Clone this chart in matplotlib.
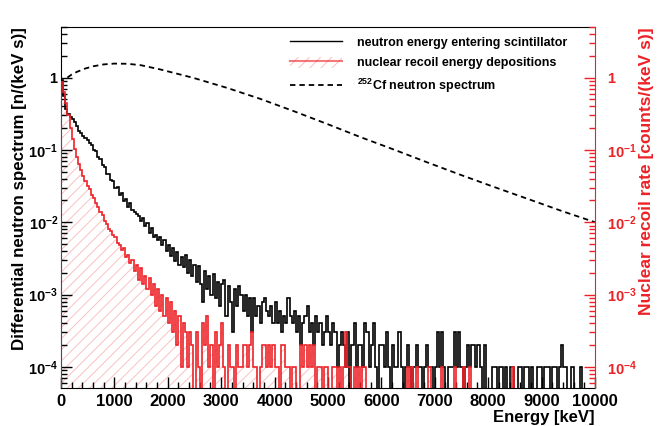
import numpy as np
import matplotlib
matplotlib.use("Agg")
import matplotlib.pyplot as plt
from matplotlib.ticker import LogLocator, FixedLocator, FixedFormatter, NullFormatter, MultipleLocator
from matplotlib.patches import Patch
from matplotlib.lines import Line2D

plt.rcParams['font.family'] = 'Liberation Sans'
plt.rcParams['font.weight'] = 'bold'
plt.rcParams['mathtext.fontset'] = 'custom'
plt.rcParams['mathtext.rm'] = 'Liberation Sans:bold'
plt.rcParams['mathtext.it'] = 'Liberation Sans:bold'
plt.rcParams['mathtext.bf'] = 'Liberation Sans:bold'
plt.rcParams['hatch.linewidth'] = 0.7

# histogram binning: 250 bins of 40 keV from 0 to 10000 keV
bin_width = 40
n_bins = 250

# neutron energy entering scintillator, in units of 1e-4 n/(keV s)
black_counts = [
    9200, 5600, 3700, 3150, 2880, 2680, 2430, 2170, 1850, 1700,
    1560, 1470, 1390, 1230, 1180, 1010, 950, 790, 740, 610,
    580, 470, 460, 380, 370, 300, 310, 240, 250, 196,
    212, 160, 182, 146, 140, 128, 122, 104, 114, 88,
    96, 70, 84, 63, 66, 57, 62, 48, 56, 40,
    49, 34, 44, 29, 39, 26, 33, 24, 35, 20,
    30, 18, 26, 15, 25, 14, 8, 21, 12, 18,
    10, 19, 9, 15, 7, 14, 16, 5, 13, 8,
    3, 12, 7, 13, 10, 6, 10, 5, 9, 3,
    9, 5, 7, 4, 8, 9, 6, 5, 7, 4,
    8, 4, 6, 3, 5, 4, 9, 5, 4, 6,
    3, 5, 2, 4, 5, 7, 3, 4, 2, 5,
    3, 4, 2, 3, 5, 3, 2, 4, 3, 1,
    2, 3, 2, 1, 3, 0, 2, 4, 1, 2,
    2, 1, 4, 3, 1, 2, 4, 1, 0, 2,
    2, 1, 3, 1, 0, 2, 1, 1, 3, 1,
    0, 1, 2, 1, 0, 1, 2, 1, 1, 0,
    1, 2, 1, 1, 0, 1, 3, 1, 3, 1,
    0, 1, 1, 1, 3, 1, 3, 1, 0, 1,
    2, 1, 2, 2, 1, 2, 1, 0, 2, 0,
    0, 0, 1, 1, 0, 1, 1, 0, 1, 0,
    1, 1, 0, 0, 1, 1, 0, 1, 1, 0,
    1, 0, 0, 1, 1, 0, 1, 1, 1, 0,
    1, 1, 0, 1, 2, 1, 1, 0, 0, 1,
    0, 0, 0, 1, 0, 0, 0, 0, 0, 0,
]

# nuclear recoil energy depositions, in units of 1e-4 counts/(keV s)
red_counts = [
    8800, 6300, 4500, 3000, 2000, 1400, 1020, 800, 640, 530,
    430, 375, 315, 285, 240, 218, 182, 162, 138, 124,
    104, 95, 80, 76, 66, 63, 52, 49, 41, 44,
    33, 35, 27, 30, 21, 26, 16, 23, 14, 18,
    12, 17, 10, 14, 7, 12, 6, 10, 5, 9,
    4, 8, 3, 6, 2, 5, 1, 4, 3, 1,
    3, 2, 0, 3, 1, 0, 4, 2, 5, 1,
    2, 0, 3, 1, 2, 4, 1, 0, 2, 1,
    1, 0, 2, 1, 1, 2, 2, 1, 2, 3,
    1, 1, 0, 1, 2, 2, 1, 2, 1, 2,
    1, 1, 0, 2, 2, 1, 1, 0, 1, 1,
    0, 0, 2, 1, 2, 1, 2, 1, 2, 0,
    1, 1, 0, 1, 1, 0, 0, 1, 1, 0,
    1, 0, 1, 3, 1, 1, 0, 1, 0, 1,
    0, 1, 1, 0, 0, 0, 0, 0, 0, 0,
    0, 0, 0, 0, 0, 0, 0, 0, 0, 0,
    0, 0, 1, 0, 1, 0, 1, 0, 0, 0,
    0, 0, 1, 0, 0, 0, 0, 0, 1, 0,
    0, 0, 0, 0, 1, 0, 0, 0, 1, 0,
    0, 1, 0, 0, 0, 0, 0, 0, 0, 0,
    0, 0, 0, 0, 0, 0, 0, 0, 0, 0,
    0, 1, 0, 0, 0, 0, 0, 0, 0, 0,
    0, 0, 0, 0, 0, 0, 0, 0, 0, 0,
    0, 0, 0, 0, 0, 0, 0, 0, 0, 0,
    0, 0, 0, 0, 0, 0, 0, 0, 0, 0,
]

# 252Cf neutron spectrum (dashed curve)
cf_energy = [120, 200, 300, 450, 600, 800, 1000, 1250, 1500, 1850, 2480, 3110,
             3730, 4360, 5000, 5600, 6250, 6850, 7500, 8100, 8750, 9400, 10000]
cf_flux = [1.0, 1.1, 1.2, 1.33, 1.43, 1.52, 1.56, 1.55, 1.48, 1.30, 0.99, 0.72,
           0.508, 0.343, 0.226, 0.151, 0.100, 0.0676, 0.0447, 0.0309, 0.0209, 0.0141, 0.0100]

ytick_vals = [1e-4, 1e-3, 1e-2, 1e-1, 1]
ytick_labels = [r'$10^{-4}$', r'$10^{-3}$', r'$10^{-2}$', r'$10^{-1}$', r'$1$']

red = '#ec2227'
pink = '#f8c2c2'

edges = np.arange(n_bins + 1) * bin_width
black_vals = np.array(black_counts) * 1e-4
red_vals = np.array(red_counts) * 1e-4
black_vals = np.where(black_vals > 0, black_vals, 1e-9)
red_vals = np.where(red_vals > 0, red_vals, 1e-9)

fig = plt.figure(figsize=(6.57, 4.26), dpi=100)
fig.subplots_adjust(left=0.0928, right=0.9056, top=0.9366, bottom=0.0892)
ax = fig.add_subplot(111)

ax.set_yscale('log')
ax.stairs(red_vals, edges, baseline=1e-9, fill=True, facecolor='none',
          edgecolor=pink, hatch='///', linewidth=0, zorder=1)
ax.stairs(black_vals, edges, color='black', linewidth=1.2, zorder=2)
ax.stairs(red_vals, edges, color=red, linewidth=1.2, zorder=3)
ax.plot(cf_energy, cf_flux, color='black', linewidth=1.3, dashes=(3, 2.2), zorder=4)

ax.set_xlim(0, 10000)
ax.set_ylim(5.1e-5, 5.0)

ax.xaxis.set_major_locator(MultipleLocator(1000))
ax.xaxis.set_minor_locator(MultipleLocator(200))
ax.yaxis.set_major_locator(FixedLocator(ytick_vals))
ax.yaxis.set_major_formatter(FixedFormatter(ytick_labels))
ax.yaxis.set_minor_locator(LogLocator(base=10, subs=np.arange(2, 10)))
ax.yaxis.set_minor_formatter(NullFormatter())
ax.tick_params(axis='both', which='both', direction='in', top=False, right=False, width=1)
ax.tick_params(axis='both', which='major', length=8)
ax.tick_params(axis='both', which='minor', length=4.5)
ax.tick_params(axis='y', labelsize=10.5, pad=2)
ax.tick_params(axis='x', labelsize=12, pad=4)
ax.spines['right'].set_visible(False)

ax.set_xlabel('Energy [keV]', fontsize=12, fontweight='bold', loc='right')
ax.xaxis.set_label_coords(1.0, -0.06)
ax.set_ylabel('Differential neutron spectrum [n/(keV s)]', fontsize=12.2,
              fontweight='bold', loc='top')
ax.yaxis.set_label_coords(-0.063, 1.0)

ax2 = ax.twinx()
ax2.set_yscale('log')
ax2.set_ylim(5.1e-5, 5.0)
ax2.yaxis.set_major_locator(FixedLocator(ytick_vals))
ax2.yaxis.set_major_formatter(FixedFormatter(ytick_labels))
ax2.yaxis.set_minor_locator(LogLocator(base=10, subs=np.arange(2, 10)))
ax2.yaxis.set_minor_formatter(NullFormatter())
ax2.tick_params(axis='y', which='both', direction='in', colors=red, labelsize=10.5,
                width=1, pad=9)
ax2.tick_params(axis='y', which='major', length=8)
ax2.tick_params(axis='y', which='minor', length=4.5)
for side in ['left', 'top', 'bottom']:
    ax2.spines[side].set_visible(False)
ax2.spines['right'].set_color(red)
ax2.set_ylabel('Nuclear recoil rate [counts/(keV s)]', fontsize=12.5,
               fontweight='bold', color=red)
ax2.yaxis.set_label_coords(1.083, 0.6)

handles = [
    Line2D([], [], color='black', linewidth=1.0),
    (Patch(facecolor='none', edgecolor=pink, hatch='///', linewidth=0),
     Line2D([], [], color=red, linewidth=1.5, alpha=0.6)),
    Line2D([], [], color='black', linewidth=1.3, dashes=(3, 2.2)),
]
labels = ['neutron energy entering scintillator',
          'nuclear recoil energy depositions',
          r'$^{252}$Cf neutron spectrum']
leg = ax2.legend(handles, labels, loc='upper left', bbox_to_anchor=(0.428, 0.974),
                 frameon=False, fontsize=9, handlelength=4.2, handleheight=1.0,
                 handletextpad=1.2, labelspacing=0.58, borderpad=0, borderaxespad=0)

fig.savefig('out.png', dpi=100)
